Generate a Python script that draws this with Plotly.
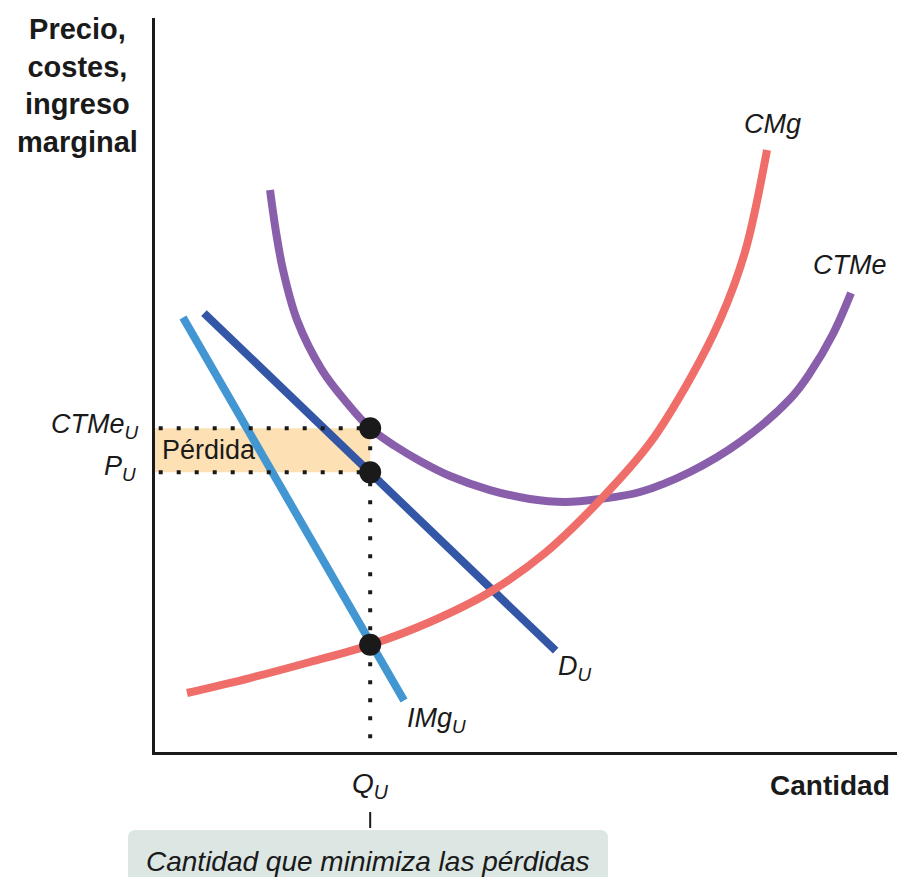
import plotly.graph_objects as go

# ---- data (arbitrary units) ----
q_u = 2.9        # quantity that minimises losses
ctme_u = 4.41    # average total cost at Q_U
p_u = 3.81       # price at Q_U
cmg_u = 1.46     # marginal cost = marginal revenue at Q_U

cmg_x = [0.431, 1.280, 2.089, 2.9, 3.706, 4.515, 5.256, 6.038, 6.671, 7.210, 7.615, 7.951, 8.248]
cmg_y = [0.804, 1.008, 1.226, 1.46, 1.771, 2.180, 2.711, 3.474, 4.210, 5.082, 5.886, 6.812, 8.202]

ctme_x = [1.550, 1.631, 1.725, 1.914, 2.251, 2.588, 2.9, 3.235, 3.571, 3.976,
          4.515, 5.054, 5.526, 5.997, 6.536, 7.210, 7.884, 8.558, 8.827, 9.137, 9.380]
ctme_y = [7.657, 7.084, 6.567, 5.886, 5.204, 4.755, 4.41, 4.169, 3.965, 3.760,
          3.569, 3.447, 3.406, 3.447, 3.542, 3.815, 4.223, 4.809, 5.163, 5.695, 6.253]

d_x = [0.66, 5.40]
d_y = [5.98, 1.38]

img_x = [0.377, 3.356]
img_y = [5.92, 0.70]

FONT = "Liberation Sans, Arial, sans-serif"
RED = "#EF6E69"
PURPLE = "#895FAC"
DBLUE = "#3456A6"
LBLUE = "#4296D2"

fig = go.Figure()

fig.add_trace(go.Scatter(x=img_x, y=img_y, mode="lines",
                         line=dict(color=LBLUE, width=8), hoverinfo="skip"))
fig.add_trace(go.Scatter(x=d_x, y=d_y, mode="lines",
                         line=dict(color=DBLUE, width=8), hoverinfo="skip"))
fig.add_trace(go.Scatter(x=ctme_x, y=ctme_y, mode="lines",
                         line=dict(color=PURPLE, width=8, shape="spline", smoothing=1),
                         hoverinfo="skip"))
fig.add_trace(go.Scatter(x=cmg_x, y=cmg_y, mode="lines",
                         line=dict(color=RED, width=8, shape="spline", smoothing=1),
                         hoverinfo="skip"))
fig.add_trace(go.Scatter(x=[q_u, q_u, q_u], y=[ctme_u, p_u, cmg_u], mode="markers",
                         marker=dict(color="#1a1a1a", size=22), hoverinfo="skip"))

# loss rectangle
fig.add_shape(type="rect", xref="x", yref="y", x0=0, x1=q_u, y0=p_u, y1=ctme_u,
              fillcolor="#FDE0B3", line=dict(width=0), layer="below")
dot = dict(color="#1a1a1a", width=4, dash="4px,14px")
fig.add_shape(type="line", xref="x", yref="y", x0=0.05, x1=q_u, y0=ctme_u, y1=ctme_u, line=dot)
fig.add_shape(type="line", xref="x", yref="y", x0=0.05, x1=q_u, y0=p_u, y1=p_u, line=dot)
fig.add_shape(type="line", xref="x", yref="y", x0=q_u, x1=q_u, y0=ctme_u, y1=0, line=dot)

# tick under Q_U and callout box
fig.add_shape(type="line", xref="x", yref="paper", x0=q_u, x1=q_u, y0=-0.0817, y1=-0.1035,
              line=dict(color="#1a1a1a", width=2))
x0, x1, y0, y1 = -0.0364, 0.6105, -0.1063, -0.18
rx, ry = 0.0108, 0.0109
path = (f"M {x0} {y1} L {x0} {y0 - ry} Q {x0} {y0} {x0 + rx} {y0} "
        f"L {x1 - rx} {y0} Q {x1} {y0} {x1} {y0 - ry} L {x1} {y1} Z")
fig.add_shape(type="path", xref="paper", yref="paper", path=path,
              fillcolor="#DCE6E3", line=dict(width=0))

def ann(text, x, y, xref="x", yref="y", size=28, xanchor="center", yanchor="middle",
        xshift=0, yshift=0, color="#1a1a1a"):
    fig.add_annotation(text=text, x=x, y=y, xref=xref, yref=yref, showarrow=False,
                       font=dict(family=FONT, size=size, color=color),
                       xanchor=xanchor, yanchor=yanchor, xshift=xshift, yshift=yshift)

ann("<b>Precio,<br>costes,<br>ingreso<br>marginal</b>", -0.1038, 1.009,
    xref="paper", yref="paper", size=29, yanchor="top")
ann("<b>Cantidad</b>", 0.9097, -0.045, xref="paper", yref="paper", size=28)
ann("<i>Q<sub>U</sub></i>", q_u, -0.045, yref="paper", size=28)
ann("<i>CTMe<sub>U</sub></i>", 0, ctme_u, size=27, xanchor="right", xshift=-14, yshift=2)
ann("<i>P<sub>U</sub></i>", 0, p_u, size=27, xanchor="right", xshift=-17, yshift=4)
ann("Pérdida", 0.067, 4.11, size=27, xanchor="left")
ann("<i>CMg</i>", 8.32, 8.56, size=27)
ann("<i>CTMe</i>", 9.37, 6.63, size=27)
ann("<i>D<sub>U</sub></i>", 5.66, 1.14, size=27)
ann("<i>IMg<sub>U</sub></i>", 3.80, 0.44, size=27)
ann("<i>Cantidad que minimiza las pérdidas</i>", 0.287, -0.149,
    xref="paper", yref="paper", size=28)

fig.update_layout(
    width=897, height=877,
    margin=dict(l=155, r=0, t=18, b=125),
    paper_bgcolor="white", plot_bgcolor="white",
    showlegend=False,
    xaxis=dict(range=[0, 10.0], showgrid=False, zeroline=False, showticklabels=False,
               ticks="", showline=True, linecolor="#1a1a1a", linewidth=3, fixedrange=True),
    yaxis=dict(range=[0, 10.0], showgrid=False, zeroline=False, showticklabels=False,
               ticks="", showline=True, linecolor="#1a1a1a", linewidth=3, fixedrange=True),
)

fig.write_html("out.html", config={"displayModeBar": False},
               post_script="document.body.style.margin='0';document.body.style.padding='0';"
                           "document.body.style.overflow='hidden';")
